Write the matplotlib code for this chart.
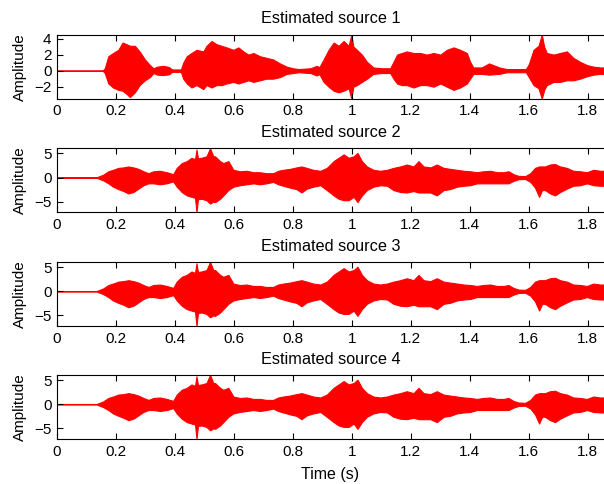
import numpy as np
import matplotlib.pyplot as plt

plt.rcParams['font.family'] = ['Liberation Sans', 'DejaVu Sans']

# envelope of each estimated source (time in s)
src1_time = [0.0, 0.155, 0.162, 0.174, 0.19, 0.208, 0.222, 0.236, 0.247, 0.264, 0.28, 0.298, 0.315, 0.327,
             0.34, 0.36, 0.38, 0.39, 0.42, 0.428, 0.44, 0.456, 0.473, 0.496, 0.507, 0.524, 0.541, 0.558,
             0.575, 0.598, 0.615, 0.632, 0.649, 0.666, 0.688, 0.71, 0.733, 0.756, 0.779, 0.80, 0.82, 0.86,
             0.88, 0.89, 0.904, 0.921, 0.938, 0.955, 0.972, 0.989, 0.998, 1.005, 1.017, 1.034, 1.051, 1.073,
             1.10, 1.13, 1.141, 1.153, 1.169, 1.186, 1.209, 1.232, 1.254, 1.277, 1.30, 1.322, 1.345, 1.367,
             1.39, 1.401, 1.412, 1.44, 1.465, 1.50, 1.525, 1.59, 1.60, 1.616, 1.633, 1.644, 1.652, 1.661,
             1.684, 1.706, 1.729, 1.751, 1.774, 1.797, 1.819, 1.842, 1.86]
src1_upper = [0.02, 0.02, 0.3, 1.8, 2.2, 2.6, 3.5, 3.3, 3.1, 3.1, 2.4, 1.4, 0.7, 0.3,
              0.5, 0.6, 0.45, 0.15, 0.15, 1.0, 1.8, 2.2, 2.6, 2.4, 3.1, 3.7, 3.3, 3.1,
              2.9, 2.6, 2.9, 2.4, 2.0, 2.2, 1.8, 1.6, 1.4, 0.9, 0.5, 0.3, 0.2, 0.3,
              0.6, 0.45, 1.4, 2.6, 3.5, 3.1, 3.7, 3.1, 4.5, 3.0, 2.6, 2.0, 1.1, 0.4,
              0.3, 0.3, 1.1, 2.0, 2.2, 2.4, 2.2, 2.2, 2.0, 2.2, 2.0, 2.6, 2.9, 2.6,
              2.2, 1.1, 0.4, 0.4, 0.9, 0.4, 0.2, 0.2, 0.8, 2.6, 3.1, 4.5, 3.0, 2.2,
              2.0, 2.2, 2.4, 1.6, 1.1, 0.7, 0.5, 0.4, 0.4]
src1_lower = [-0.02, -0.02, -0.3, -1.6, -2.1, -2.4, -2.5, -2.9, -3.3, -2.7, -1.8, -1.2, -0.8, -0.3,
              -0.5, -0.55, -0.45, -0.15, -0.15, -1.0, -1.6, -2.1, -1.8, -2.3, -1.8, -2.1, -1.8, -1.8,
              -1.6, -1.4, -1.6, -1.4, -1.2, -1.4, -1.2, -1.0, -1.0, -0.8, -0.4, -0.3, -0.2, -0.3,
              -0.6, -0.45, -1.4, -2.0, -2.5, -2.7, -2.5, -2.2, -3.5, -2.0, -1.8, -1.4, -1.0, -0.4,
              -0.3, -0.3, -1.0, -1.6, -1.8, -1.8, -2.1, -1.8, -1.8, -2.0, -1.6, -2.0, -2.4, -2.1,
              -1.6, -1.0, -0.4, -0.4, -0.5, -0.4, -0.2, -0.2, -0.8, -1.8, -2.2, -3.5, -2.4, -1.8,
              -1.4, -1.4, -1.2, -1.2, -1.0, -0.7, -0.5, -0.4, -0.4]

src2_time = [0.0, 0.134, 0.157, 0.174, 0.19, 0.208, 0.225, 0.242, 0.259, 0.276, 0.293, 0.31, 0.327, 0.349,
             0.372, 0.394, 0.406, 0.423, 0.44, 0.456, 0.468, 0.473, 0.478, 0.49, 0.507, 0.519, 0.53, 0.536,
             0.553, 0.564, 0.581, 0.598, 0.62, 0.643, 0.666, 0.688, 0.71, 0.733, 0.75, 0.767, 0.79, 0.812,
             0.829, 0.847, 0.869, 0.893, 0.915, 0.938, 0.955, 0.972, 0.989, 1.006, 1.019, 1.034, 1.051, 1.073,
             1.096, 1.119, 1.141, 1.164, 1.186, 1.209, 1.226, 1.243, 1.266, 1.288, 1.311, 1.333, 1.356, 1.379,
             1.401, 1.424, 1.446, 1.469, 1.492, 1.514, 1.531, 1.548, 1.565, 1.588, 1.605, 1.621, 1.635, 1.645,
             1.655, 1.672, 1.689, 1.706, 1.729, 1.751, 1.774, 1.797, 1.819, 1.842, 1.86]
src2_upper = [0.05, 0.05, 0.6, 1.3, 1.6, 2.0, 2.1, 2.3, 2.1, 1.8, 1.3, 0.9, 1.3, 1.4,
              1.1, 0.7, 2.0, 3.0, 3.4, 4.1, 3.8, 5.8, 4.0, 4.1, 4.4, 6.1, 4.4, 4.4,
              3.4, 3.0, 3.4, 1.6, 1.3, 1.4, 1.1, 1.1, 0.9, 0.9, 1.4, 1.6, 1.8, 2.1,
              2.3, 2.0, 1.6, 1.4, 2.0, 3.4, 4.1, 4.8, 4.1, 4.4, 5.1, 3.4, 2.3, 1.6,
              1.4, 1.6, 2.0, 2.3, 2.7, 2.3, 3.4, 2.3, 2.1, 2.7, 2.0, 1.8, 1.6, 1.4,
              1.3, 1.1, 1.3, 1.4, 1.1, 1.1, 1.3, 0.7, 0.35, 0.3, 0.9, 2.0, 2.3, 2.3,
              2.3, 2.7, 2.8, 2.3, 2.0, 1.4, 1.3, 1.1, 1.6, 1.4, 1.4]
src2_lower = [-0.05, -0.05, -0.6, -1.2, -1.9, -2.4, -2.8, -3.3, -3.0, -2.3, -1.6, -1.2, -1.2, -1.4,
              -1.2, -0.8, -1.9, -3.0, -3.7, -4.0, -4.2, -7.2, -4.5, -4.4, -4.7, -5.4, -5.0, -5.1,
              -4.4, -3.7, -2.6, -1.9, -1.6, -1.4, -1.2, -1.4, -1.2, -0.9, -1.4, -1.7, -2.1, -2.4,
              -3.1, -2.3, -1.9, -1.6, -2.6, -3.7, -4.4, -4.7, -4.7, -4.0, -5.1, -3.7, -2.6, -1.9,
              -1.6, -1.7, -2.6, -3.0, -3.1, -2.8, -3.1, -3.1, -3.1, -3.7, -2.6, -2.4, -1.9, -1.7,
              -1.6, -1.2, -1.2, -1.2, -1.2, -1.2, -1.2, -0.7, -0.35, -0.3, -0.9, -2.1, -4.0, -2.6,
              -2.6, -3.3, -3.7, -3.0, -2.3, -1.7, -1.6, -1.2, -1.6, -1.7, -1.7]

# sources 3 and 4 look the same as source 2 in the picture
src3_time, src3_upper, src3_lower = src2_time, src2_upper, src2_lower
src4_time, src4_upper, src4_lower = src2_time, src2_upper, src2_lower

sources = [(src1_time, src1_upper, src1_lower), (src2_time, src2_upper, src2_lower),
           (src3_time, src3_upper, src3_lower), (src4_time, src4_upper, src4_lower)]
ylims = [(-3.5, 4.5), (-7.2, 6.1), (-7.2, 6.1), (-7.2, 6.1)]
yticks = [[-2, 0, 2, 4], [-5, 0, 5], [-5, 0, 5], [-5, 0, 5]]
xticks = [0, 0.2, 0.4, 0.6, 0.8, 1, 1.2, 1.4, 1.6, 1.8]
xticklabels = ['0', '0.2', '0.4', '0.6', '0.8', '1', '1.2', '1.4', '1.6', '1.8']

fig = plt.figure(figsize=(6.04, 4.84), dpi=100)
bottoms = [0.796, 0.5614, 0.3264, 0.0930]

for i, (t, up, lo) in enumerate(sources):
    ax = fig.add_axes([0.0944, bottoms[i], 0.9056, 0.1326])
    ax.fill_between(t, lo, up, color='red', linewidth=0.8, edgecolor='red')
    ax.set_xlim(0, 1.855)
    ax.set_ylim(*ylims[i])
    ax.set_xticks(xticks)
    ax.set_xticklabels(xticklabels)
    ax.set_yticks(yticks[i])
    ax.tick_params(direction='in', top=True, length=4, width=0.8, labelsize=11, pad=4)
    ax.spines['right'].set_visible(False)
    for s in ['left', 'top', 'bottom']:
        ax.spines[s].set_linewidth(0.8)
    ax.set_ylabel('Amplitude', fontsize=11, labelpad=5)
    ax.set_title('Estimated source %d' % (i + 1), fontsize=11.7, pad=8)
    if i == 3:
        ax.set_xlabel('Time (s)', fontsize=11.5, labelpad=6)

fig.savefig('out.png', dpi=100)
